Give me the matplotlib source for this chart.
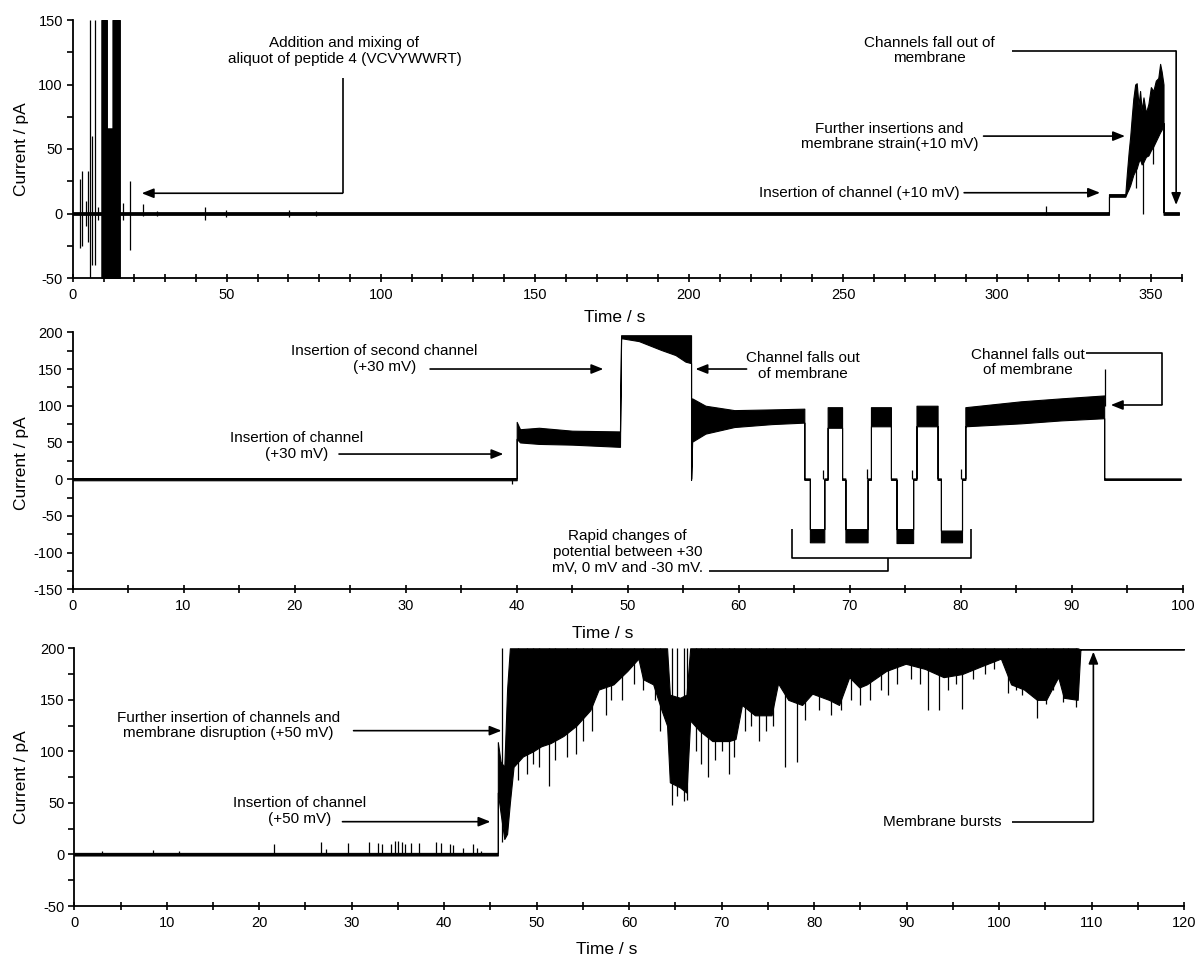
import matplotlib
matplotlib.use("Agg")
import matplotlib.pyplot as plt
from matplotlib.ticker import MultipleLocator

plt.rcParams["font.family"] = ["Liberation Sans", "DejaVu Sans"]
plt.rcParams["axes.unicode_minus"] = False

# ---------------- panel 1: peptide 4, +10 mV (trace envelope)
p1_t = [0, 9.3, 9.3, 11.1, 11.1, 12.9, 12.9, 15.3, 15.3, 336.3, 336.3, 341.6, 342.1,
        342.7, 343.2, 343.7, 344.2, 344.8, 345.3, 345.9, 346.4, 346.9, 347.5, 348.3,
        349.1, 349.9, 350.7, 351.5, 352.3, 352.9, 353.4, 354.0, 354.0, 359.0]
p1_hi = [1, 1, 150, 150, 66, 66, 150, 150, 1, 1, 15, 15, 31,
         48, 60, 75, 89, 100, 101, 84, 95, 80, 90, 78,
         85, 98, 95, 103, 105, 116, 110, 100, 1, 1]
p1_lo = [-1, -1, -50, -50, -50, -50, -50, -50, -1, -1, 13, 13, 16,
         19, 22, 26, 30, 33, 35, 40, 42, 38, 40, 44,
         45, 49, 52, 56, 60, 63, 65, 70, -1, -1]
p1_spk_t = [2.3, 3.1, 4.2, 5.0, 5.5, 6.4, 7.1, 8.2, 16.3, 18.5, 22.8, 27.4, 42.8,
            49.8, 70.2, 79.0, 316.0, 345.0, 347.4, 350.7]
p1_spk_hi = [27, 33, 10, 33, 150, 60, 150, 5, 8, 25, 7, 2, 5, 3, 3, 2, 6, 40, 45, 60]
p1_spk_lo = [-27, -25, -10, -22, -50, -40, -40, -5, -5, -28, -2, -2, -5, -3, -3, -2, -1, 20, 0, 38]

# ---------------- panel 2: +30 mV, potential switching
p2_t = [0, 40.0, 40.0, 40.3, 42.0, 45.0, 49.3, 49.4, 51.0, 53.0, 54.3, 55.2, 55.7, 55.7,
        55.8, 57.0, 59.6, 63.0, 65.9, 65.9, 66.4, 66.4, 67.7, 67.7, 68.0, 68.0, 69.3,
        69.3, 69.6, 69.6, 71.6, 71.6, 71.9, 71.9, 73.7, 73.7, 74.2, 74.2, 75.7, 75.7,
        76.0, 76.0, 77.9, 77.9, 78.2, 78.2, 80.1, 80.1, 80.4, 80.4, 85.4, 89.0, 92.9,
        92.9, 99.8]
p2_hi = [1.5, 1.5, 78, 68, 70, 66, 65, 196, 196, 196, 196, 196, 196, 1,
         110, 100, 94, 95, 96, 1, 1, -68, -68, 1, 1, 98, 98,
         1, 1, -68, -68, 1, 1, 98, 98, 1, 1, -68, -68, 1,
         1, 100, 100, 1, 1, -70, -70, 1, 1, 98, 106, 110, 114,
         1, 1]
p2_lo = [-1.5, -1.5, 55, 50, 48, 47, 44, 192, 188, 176, 169, 160, 158, -1,
         51, 62, 71, 75, 77, -1, -1, -86, -86, -1, -1, 70, 70,
         -1, -1, -86, -86, -1, -1, 72, 72, -1, -1, -87, -87, -1,
         -1, 72, 72, -1, -1, -86, -86, -1, -1, 72, 76, 80, 83,
         -1, -1]
p2_spk_t = [39.6, 67.6, 71.5, 75.6, 80.0, 92.95]
p2_spk_hi = [1, 13, 14, 13, 14, 150]
p2_spk_lo = [-6, 0, 0, 0, 0, 100]

# ---------------- panel 3: +50 mV, membrane disruption
p3_t = [0, 45.8, 45.8, 46.1, 46.5, 46.8, 47.1, 47.5, 48.5, 49.6, 50.5, 51.5, 52.9,
        54.3, 55.8, 56.7, 58.3, 59.8, 61.0, 61.5, 62.6, 63.5, 64.1, 64.4, 65.5, 66.2,
        66.6, 67.6, 69.0, 70.8, 71.5, 72.2, 73.6, 75.4, 76.1, 77.2, 78.7, 79.8, 81.6,
        82.7, 83.8, 84.9, 85.7, 87.8, 89.9, 92.0, 94.0, 96.0, 98.2, 100.2, 101.3, 102.7,
        104.1, 105.1, 106.4, 107.0, 108.5, 108.8, 120.0]
p3_hi = [1.5, 1.5, 109, 90, 85, 160, 200, 200, 200, 200, 200, 200, 200,
         200, 200, 200, 200, 200, 200, 200, 200, 200, 200, 155, 152, 155,
         200, 200, 200, 200, 200, 200, 200, 200, 200, 200, 200, 200, 200,
         200, 200, 200, 200, 200, 200, 200, 200, 200, 200, 200, 200, 200,
         200, 200, 200, 200, 200, 199, 199]
p3_lo = [-1, -1, 60, 40, 15, 20, 50, 85, 95, 100, 105, 108, 115,
         125, 140, 160, 165, 178, 190, 170, 165, 140, 125, 70, 65, 60,
         130, 120, 110, 110, 112, 145, 135, 135, 166, 150, 145, 156, 150,
         145, 172, 162, 165, 178, 185, 180, 172, 175, 183, 190, 165, 160,
         150, 150, 172, 152, 150, 199, 199]
# small openings before the channel inserts
p3_base_t = [3.0, 8.5, 11.3, 21.6, 26.7, 27.2, 29.6, 31.9, 32.8, 33.3, 34.3, 34.7, 35.0,
             35.4, 35.8, 36.4, 37.3, 39.1, 39.6, 40.6, 41.0, 42.0, 43.1, 43.5, 44.0]
p3_base_hi = [3, 4, 3, 10, 12, 5, 11, 12, 11, 10, 10, 13, 13,
              12, 10, 11, 11, 12, 11, 10, 9, 6, 10, 6, 3]
# downward excursions in the saturated part
p3_dip_t = [46.3, 48.0, 49.0, 49.6, 50.2, 51.3, 52.0, 53.3, 54.3, 55.0, 56.0, 57.5, 58.0,
            59.2, 60.5, 61.5, 62.8, 63.3, 64.6, 65.2, 65.9, 66.3, 67.2, 67.8, 68.5, 69.3,
            70.0, 70.8, 71.3, 72.5, 73.2, 74.0, 74.8, 75.6, 76.8, 78.1, 79.0, 80.5, 81.8,
            82.9, 84.0, 85.0, 86.0, 87.2, 88.0, 89.0, 90.5, 91.5, 92.3, 93.5, 94.5, 95.3,
            96.0, 97.2, 98.5, 99.5, 101.0, 101.8, 102.5, 103.3, 104.1, 105.1, 105.8,
            106.9, 107.5, 108.3]
p3_dip_lo = [12, 72, 78, 88, 85, 66, 92, 95, 97, 110, 120, 135, 150,
             150, 165, 160, 150, 120, 48, 57, 52, 53, 100, 88, 75, 92,
             100, 78, 95, 120, 125, 110, 120, 125, 85, 90, 130, 140, 135,
             140, 150, 145, 150, 160, 155, 165, 170, 165, 140, 140, 160, 165,
             141, 170, 175, 180, 157, 160, 155, 160, 132, 146, 160,
             148, 160, 143]

W, H = 1197, 957
fig = plt.figure(figsize=(W / 100, H / 100), dpi=100)


def px_axes(left, top, right, bottom):
    return fig.add_axes([left / W, 1 - bottom / H, (right - left) / W, (bottom - top) / H])


def style(ax, xlim, ylim, xmaj, xmin):
    ax.set_xlim(*xlim)
    ax.set_ylim(*ylim)
    for s in ("top", "right"):
        ax.spines[s].set_visible(False)
    for s in ("left", "bottom"):
        ax.spines[s].set_linewidth(1.3)
    ax.xaxis.set_major_locator(MultipleLocator(xmaj))
    ax.xaxis.set_minor_locator(MultipleLocator(xmin))
    ax.yaxis.set_major_locator(MultipleLocator(50))
    ax.yaxis.set_minor_locator(MultipleLocator(25))
    ax.tick_params(axis="x", which="both", direction="inout", length=6, width=1.2,
                   labelsize=10.5, pad=4)
    ax.tick_params(axis="y", which="both", direction="out", length=4, width=1.2,
                   labelsize=10.5, pad=3)


def trace(ax, t, hi, lo):
    ax.fill_between(t, lo, hi, facecolor="black", edgecolor="black", linewidth=0.8)


def arrow(ax, tail, head):
    ax.annotate("", xy=head, xytext=tail,
                arrowprops=dict(arrowstyle="-|>,head_length=0.55,head_width=0.22",
                                color="black", lw=1.2, mutation_scale=13,
                                shrinkA=0, shrinkB=0))


def path(ax, xs, ys):
    ax.plot(xs, ys, color="black", lw=1.2, solid_capstyle="butt", clip_on=False)


def note(ax, x, y, s):
    ax.text(x, y, s, ha="center", va="center", fontsize=11, linespacing=1.15)


# ---- panel 1
ax1 = px_axes(72.7, 20, 1182, 278)
style(ax1, (0, 360), (-50, 150), 50, 10)
trace(ax1, p1_t, p1_hi, p1_lo)
ax1.vlines(p1_spk_t, p1_spk_lo, p1_spk_hi, color="black", lw=0.9)
note(ax1, 88.2, 126, "Addition and mixing of\naliquot of peptide 4 (VCVYWWRT)")
path(ax1, [87.6, 87.6], [104.8, 15.7])
arrow(ax1, (87.6, 15.7), (22.4, 15.7))
note(ax1, 278.1, 126.4, "Channels fall out of\nmembrane")
path(ax1, [304.8, 358.1], [126, 126])
arrow(ax1, (358.1, 126), (358.1, 6.6))
note(ax1, 265, 59.8, "Further insertions and\nmembrane strain(+10 mV)")
arrow(ax1, (295.6, 60), (341.5, 60))
ax1.text(287.7, 16.1, "Insertion of channel (+10 mV)", ha="right", va="center", fontsize=11)
arrow(ax1, (289.3, 16.1), (333.4, 16.1))

# ---- panel 2
ax2 = px_axes(72.5, 332.3, 1183, 589.3)
style(ax2, (0, 100), (-150, 200), 10, 5)
trace(ax2, p2_t, p2_hi, p2_lo)
ax2.vlines(p2_spk_t, p2_spk_lo, p2_spk_hi, color="black", lw=0.9)
note(ax2, 20.2, 45, "Insertion of channel\n(+30 mV)")
arrow(ax2, (24.0, 34.2), (38.8, 34.2))
note(ax2, 28.1, 163.9, "Insertion of second channel\n(+30 mV)")
arrow(ax2, (32.2, 150), (47.8, 150))
note(ax2, 65.8, 153.8, "Channel falls out\nof membrane")
arrow(ax2, (60.7, 150), (56.1, 150))
note(ax2, 86.0, 158.9, "Channel falls out\nof membrane")
path(ax2, [91.3, 98.1, 98.1], [171.4, 171.4, 101])
arrow(ax2, (98.1, 101), (93.5, 101))
note(ax2, 50.0, -99.4, "Rapid changes of\npotential between +30\nmV, 0 mV and -30 mV.")
path(ax2, [57.3, 73.4, 73.4], [-124.8, -124.8, -107])
path(ax2, [64.8, 64.8, 80.9, 80.9], [-68.4, -107, -107, -68.4])

# ---- panel 3
ax3 = px_axes(74.3, 648.3, 1184, 906)
style(ax3, (0, 120), (-50, 200), 10, 5)
trace(ax3, p3_t, p3_hi, p3_lo)
ax3.vlines(p3_base_t, 0, p3_base_hi, color="black", lw=0.9)
ax3.vlines(p3_dip_t, p3_dip_lo, 200, color="black", lw=0.9)
note(ax3, 16.7, 125.1, "Further insertion of channels and\nmembrane disruption (+50 mV)")
arrow(ax3, (30.2, 120.1), (46.2, 120.1))
note(ax3, 24.4, 41.9, "Insertion of channel\n(+50 mV)")
arrow(ax3, (29.0, 31.8), (45.0, 31.8))
note(ax3, 93.9, 31.8, "Membrane bursts")
path(ax3, [101.4, 110.2], [31.8, 31.8])
arrow(ax3, (110.2, 31.8), (110.2, 196.7))

# axis titles placed where the original has them
for (xl, yl), (yx, yy) in [((615, 317), (22, 149)),
                           ((603, 634), (22, 463)),
                           ((607, 949), (22, 777))]:
    fig.text(xl / W, 1 - yl / H, "Time / s", ha="center", va="center", fontsize=12.5)
    fig.text(yx / W, 1 - yy / H, "Current / pA", ha="center", va="center",
             rotation=90, fontsize=12.5)

fig.savefig("out.png", dpi=100)
